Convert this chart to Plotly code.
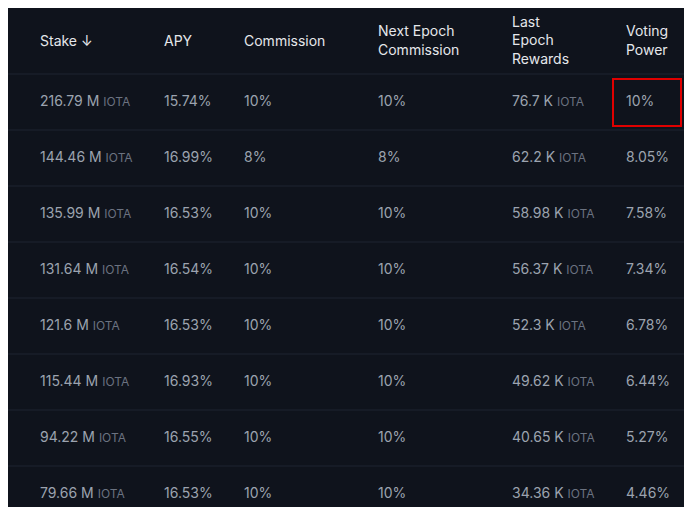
import plotly.graph_objects as go

headers = ['Stake ↓', 'APY', 'Commission', 'Next Epoch<br>Commission',
           'Last<br>Epoch<br>Rewards', 'Voting<br>Power']
stake = [216.79, 144.46, 135.99, 131.64, 121.6, 115.44, 94.22, 79.66]
apy = [15.74, 16.99, 16.53, 16.54, 16.53, 16.93, 16.55, 16.53]
commission = [10, 8, 10, 10, 10, 10, 10, 10]
next_commission = [10, 8, 10, 10, 10, 10, 10, 10]
rewards = [76.7, 62.2, 58.98, 56.37, 52.3, 49.62, 40.65, 34.36]
voting_power = ['10', '8.05', '7.58', '7.34', '6.78', '6.44', '5.27', '4.46']

bg = '#0f131c'
line = '#1f2530'
unit = " <span style='font-size:12px;color:#6b7280'>IOTA</span>"

columns = [
    ['%s M%s' % (v, unit) for v in stake],
    ['%s%%' % v for v in apy],
    ['%s%%' % v for v in commission],
    ['%s%%' % v for v in next_commission],
    ['%s K%s' % (v, unit) for v in rewards],
    ['%s%%' % v for v in voting_power],
]

# layout in pixel units
col_x = [32, 156, 236, 370, 504, 618]
header_y = 34
row_top = 66
row_h = 56

fig = go.Figure()

fig.add_trace(go.Scatter(
    x=col_x, y=[header_y] * len(headers), text=headers,
    mode='text', textposition='middle right',
    textfont=dict(family='Inter', size=14, color='#e5e7eb'),
    hoverinfo='skip', showlegend=False))

for cx, col in zip(col_x, columns):
    fig.add_trace(go.Scatter(
        x=[cx] * len(col), y=[row_top + row_h * (i + 0.5) for i in range(len(col))],
        text=col, mode='text', textposition='middle right',
        textfont=dict(family='Inter', size=14, color='#9ca3af'),
        hoverinfo='skip', showlegend=False))

for i in range(len(stake)):
    y = row_top + row_h * i
    fig.add_shape(type='line', x0=0, x1=692, y0=y, y1=y,
                  line=dict(color=line, width=1))

# highlight box
fig.add_shape(type='rect', x0=605, x1=673, y0=71, y1=118,
              line=dict(color='#e00000', width=2))

fig.update_xaxes(range=[0, 692], visible=False, fixedrange=True)
fig.update_yaxes(range=[507, 0], visible=False, fixedrange=True)
fig.update_layout(width=692, height=507, paper_bgcolor=bg, plot_bgcolor=bg,
                  margin=dict(l=0, r=0, t=0, b=0))
fig.write_html('out.html')
